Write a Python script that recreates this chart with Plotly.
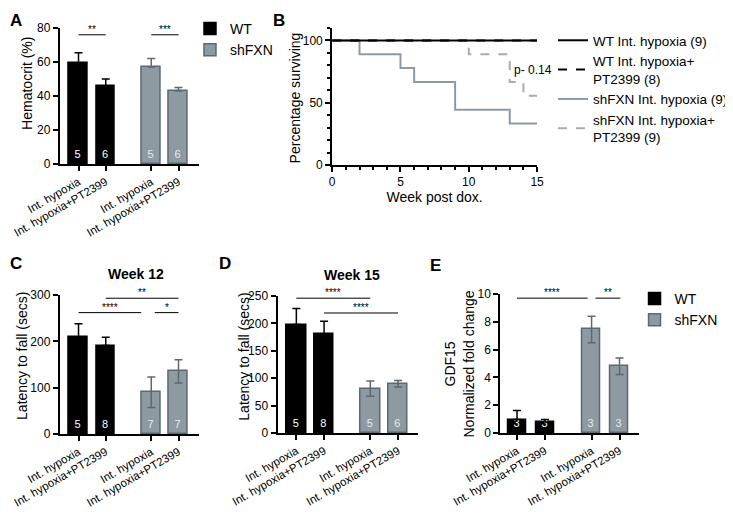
import plotly.graph_objects as go

# ---------------- Data ---------------- #

groups = ["Int. hypoxia", "Int. hypoxia+PT2399", "Int. hypoxia", "Int. hypoxia+PT2399"]
bar_pos = [1, 2, 3.67, 4.67]

# A - hematocrit (%)
hct_mean = [59.5, 46, 57, 43]
hct_err = [6, 4, 5, 2]
hct_n = ["5", "6", "5", "6"]

# C - latency to fall, week 12 (secs)
wk12_mean = [210, 191, 90, 135]
wk12_err = [28, 18, 33, 25]
wk12_n = ["5", "8", "7", "7"]

# D - latency to fall, week 15 (secs)
wk15_mean = [198, 181, 81, 90]
wk15_err = [29, 23, 14, 6]
wk15_n = ["5", "8", "5", "6"]

# E - GDF15 normalized fold change
gdf_mean = [0.97, 0.8, 7.45, 4.8]
gdf_err = [0.65, 0.17, 0.95, 0.6]
gdf_n = ["3", "3", "3", "3"]

# B - survival (Kaplan-Meier steps)
wt_ih_wk = [0, 15]
wt_ih_surv = [100, 100]
wt_pt_wk = [0, 15]
wt_pt_surv = [100, 100]
sh_ih_wk = [0, 2, 5, 6, 9, 13, 15]
sh_ih_surv = [100, 88.9, 77.8, 66.7, 44.4, 33.3, 33.3]
sh_pt_wk = [0, 10, 13, 14, 15]
sh_pt_surv = [100, 88.9, 66.7, 55.6, 55.6]

# significance brackets: (x0, x1, y, label)
sig_a = [(1, 2, 76, "**"), (3.67, 4.67, 76, "***")]
sig_c = [(2, 4.67, 293, "**"), (1, 3.3, 262, "****"), (3.8, 4.67, 262, "*")]
sig_d = [(1, 3.67, 246, "****"), (2, 4.67, 219, "****")]
sig_e = [(1, 3.53, 9.7, "****"), (3.81, 4.7, 9.7, "**")]

# ---------------- Style ---------------- #

FONT = "Arial, Liberation Sans, sans-serif"
BLACK = "#000000"
GRAY = "#8d9aa2"
GRAY_EDGE = "#5d686f"
# page body keeps its default 8px margin, so the figure is 8px smaller than the window
OFF = 8
W, H = 733 - OFF, 515 - OFF


def px(x):
    return (x - OFF) / W


def py(y):
    return 1 - (y - OFF) / H


def dom_x(x0, x1):
    return [px(x0), px(x1)]


def dom_y(top, bottom):
    return [py(bottom), py(top)]


fig = go.Figure()


def add_bars(idx, mean, err, n, width, legend=None, upper_only=False):
    xa = "x" if idx == 1 else "x%d" % idx
    ya = "y" if idx == 1 else "y%d" % idx
    for name, sl, fill, edge, tcol in [("WT", slice(0, 2), BLACK, BLACK, "white"),
                                        ("shFXN", slice(2, 4), GRAY, GRAY_EDGE, "#e4eaee")]:
        errs = err[sl]
        fig.add_trace(go.Bar(
            x=bar_pos[sl], y=mean[sl], name=name, xaxis=xa, yaxis=ya,
            width=width, marker=dict(color=fill, line=dict(color=edge, width=1.5)),
            text=n[sl], textposition="inside", insidetextanchor="start",
            constraintext="none", textangle=0,
            textfont=dict(color=tcol, size=11, family=FONT),
            error_y=dict(type="data", array=errs, symmetric=False,
                         arrayminus=[0] * len(errs) if (upper_only or name == "WT") else errs,
                         color=edge if name == "shFXN" else BLACK, thickness=1.5, width=4),
            showlegend=legend is not None, legend=legend or "legend",
            hoverinfo="skip",
        ))


add_bars(1, hct_mean, hct_err, hct_n, 0.69, legend="legend", upper_only=True)
add_bars(3, wk12_mean, wk12_err, wk12_n, 0.69)
add_bars(4, wk15_mean, wk15_err, wk15_n, 0.71)
add_bars(5, gdf_mean, gdf_err, gdf_n, 0.64, legend="legend3")

# survival curves
surv = [
    ("shFXN Int. hypoxia+<br>PT2399 (9)", sh_pt_wk, sh_pt_surv, "#a3adb3", "dash", 3),
    ("shFXN Int. hypoxia (9)", sh_ih_wk, sh_ih_surv, GRAY, "solid", 2),
    ("WT Int. hypoxia+<br>PT2399 (8)", wt_pt_wk, wt_pt_surv, BLACK, "dash", 1),
    ("WT Int. hypoxia (9)", wt_ih_wk, wt_ih_surv, BLACK, "solid", 0),
]
for name, xs, ys, col, dash, rank in surv:
    fig.add_trace(go.Scatter(
        x=xs, y=ys, name=name, mode="lines", line_shape="hv",
        line=dict(color=col, width=2, dash=dash), xaxis="x2", yaxis="y2",
        legend="legend2", legendrank=rank, hoverinfo="skip",
    ))

axis_common = dict(showline=True, linecolor=BLACK, linewidth=2, ticks="outside",
                   ticklen=5, tickwidth=2, tickcolor=BLACK, showgrid=False,
                   zeroline=False, automargin=False,
                   tickfont=dict(family=FONT, size=12, color=BLACK))
# 11.5px keeps plotly from hiding the long neighbouring labels
cat_x = dict(axis_common, tickvals=bar_pos, ticktext=groups, tickangle=-30,
             tickfont=dict(family=FONT, size=11.5, color=BLACK))
title_font = dict(family=FONT, size=14, color=BLACK)
minor_tk = dict(ticks="outside", ticklen=3, tickwidth=1.5, tickcolor=BLACK)

fig.update_layout(
    width=W, height=H, margin=dict(l=0, r=0, t=0, b=0),
    paper_bgcolor="white", plot_bgcolor="white", bargap=0,
    font=dict(family=FONT, color=BLACK),
    # A
    xaxis=dict(cat_x, domain=dom_x(60, 200), range=[0.31, 5.42], anchor="y"),
    yaxis=dict(axis_common, domain=dom_y(28, 164), range=[0, 80], dtick=20, anchor="x"),
    # B
    xaxis2=dict(axis_common, domain=dom_x(334, 540), range=[0, 15], tickvals=[0, 5, 10, 15],
                minor=dict(minor_tk, dtick=1), anchor="y2",
                title=dict(text="Week post dox.", font=title_font, standoff=0)),
    yaxis2=dict(axis_common, domain=dom_y(28, 165), range=[0, 110], tickvals=[0, 50, 100],
                minor=dict(minor_tk, dtick=10), anchor="x2"),
    # C
    xaxis3=dict(cat_x, domain=dom_x(60, 200), range=[0.31, 5.42], anchor="y3"),
    yaxis3=dict(axis_common, domain=dom_y(295, 434), range=[0, 300], dtick=100, anchor="x3"),
    # D
    xaxis4=dict(cat_x, domain=dom_x(279, 420), range=[0.32, 5.38], anchor="y4"),
    yaxis4=dict(axis_common, domain=dom_y(296, 433), range=[0, 250], dtick=50, anchor="x4"),
    # E
    xaxis5=dict(cat_x, domain=dom_x(503, 642), range=[0.4, 5.35], anchor="y5"),
    yaxis5=dict(axis_common, domain=dom_y(294, 433), range=[0, 10], dtick=2, anchor="x5"),
    legend=dict(x=px(191), y=py(13), xanchor="left", yanchor="top",
                font=dict(family=FONT, size=14), tracegroupgap=0, itemwidth=30,
                bgcolor="rgba(0,0,0,0)"),
    legend2=dict(x=px(556), y=py(25), xanchor="left", yanchor="top",
                 font=dict(family=FONT, size=13.5), tracegroupgap=3, itemwidth=30,
                 bgcolor="rgba(0,0,0,0)"),
    legend3=dict(x=px(638), y=py(283), xanchor="left", yanchor="top",
                 font=dict(family=FONT, size=14), tracegroupgap=0, itemwidth=30,
                 bgcolor="rgba(0,0,0,0)"),
)

# significance lines and stars
for idx, sigs in [(1, sig_a), (3, sig_c), (4, sig_d), (5, sig_e)]:
    xa = "x" if idx == 1 else "x%d" % idx
    ya = "y" if idx == 1 else "y%d" % idx
    for x0, x1, y, label in sigs:
        fig.add_shape(type="line", xref=xa, yref=ya, x0=x0, x1=x1, y0=y, y1=y,
                      line=dict(color=BLACK, width=1))
        fig.add_annotation(x=(x0 + x1) / 2, y=y, xref=xa, yref=ya, text=label,
                           showarrow=False, xanchor="center", yanchor="bottom", yshift=-2,
                           font=dict(family=FONT, size=10, color=BLACK))

fig.add_annotation(x=13.2, y=76, xref="x2", yref="y2", text="p- 0.14", showarrow=False,
                   xanchor="left", yanchor="middle", font=dict(family=FONT, size=12, color=BLACK))

# y-axis titles (placed like the GraphPad layout)
for text, tx, ty in [("Hematocrit (%)", 27, 83), ("Percentage surviving", 297, 98),
                     ("Latency to fall (secs)", 22, 356), ("Latency to fall (secs)", 245, 357),
                     ("GDF15<br>Normalized fold change", 462, 364)]:
    fig.add_annotation(x=px(tx), y=py(ty), xref="paper", yref="paper", text=text,
                       textangle=-90, showarrow=False, xanchor="center", yanchor="middle",
                       font=title_font)

# panel titles and letters
for text, tx, ty in [("Week 12", 137, 274), ("Week 15", 354, 275)]:
    fig.add_annotation(x=px(tx), y=py(ty), xref="paper", yref="paper", text="<b>%s</b>" % text,
                       showarrow=False, xanchor="center", yanchor="middle",
                       font=dict(family=FONT, size=14, color=BLACK))
for text, tx, ty, xa in [("A", 8, 20, "left"), ("B", 281, 20, "center"), ("C", 8, 263, "left"),
                         ("D", 226, 263, "center"), ("E", 438, 265, "center")]:
    fig.add_annotation(x=px(tx), y=py(ty), xref="paper", yref="paper", text="<b>%s</b>" % text,
                       showarrow=False, xanchor=xa, yanchor="middle",
                       font=dict(family=FONT, size=17, color=BLACK))

fig.write_html("out.html")
